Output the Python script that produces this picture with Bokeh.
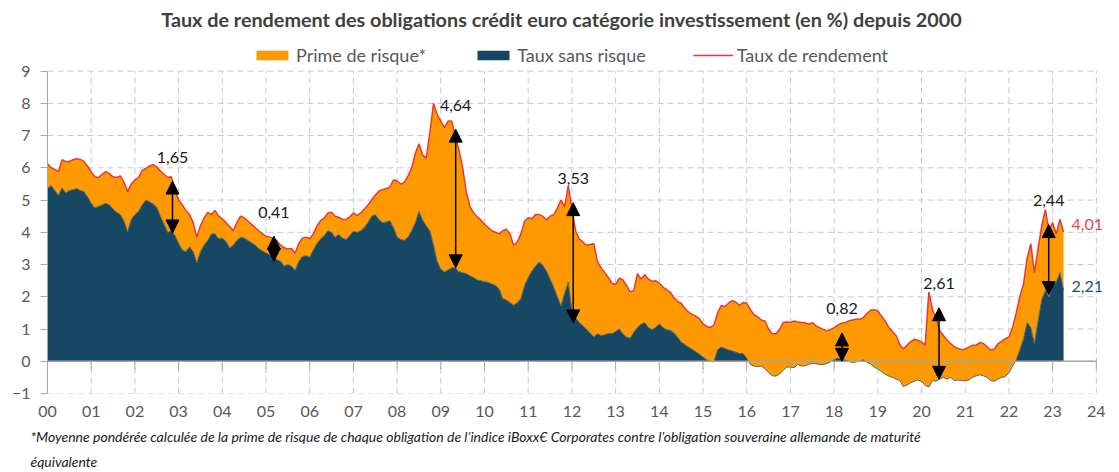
import numpy as np
from bokeh.plotting import figure
from bokeh.models import (ColumnDataSource, Legend, LegendItem, Title, FixedTicker,
                          Range1d, Arrow, NormalHead, LabelSet, Label)
from bokeh.core.properties import value
from bokeh.embed import file_html
from bokeh.resources import INLINE

# ---------------- data (monthly, from Jan 2000) ----------------
start_year = 2000
yield_pct = [
    # 2000
    6.13, 6.00, 5.95, 5.88, 6.25, 6.20, 6.20, 6.25, 6.28, 6.26, 6.20, 6.05,
    # 2001
    5.88, 5.72, 5.70, 5.80, 5.88, 5.82, 5.72, 5.70, 5.75, 5.55, 5.26, 5.50,
    # 2002
    5.62, 5.70, 5.92, 5.98, 6.05, 6.10, 6.03, 5.90, 5.80, 5.70, 5.72, 5.30,
    # 2003
    5.00, 4.85, 4.68, 4.55, 4.30, 3.85, 4.20, 4.45, 4.62, 4.55, 4.68, 4.50,
    # 2004
    4.42, 4.30, 4.18, 4.05, 4.30, 4.50, 4.45, 4.35, 4.25, 4.15, 4.05, 3.95,
    # 2005
    3.88, 3.85, 3.82, 3.74, 3.60, 3.52, 3.48, 3.50, 3.35, 3.65, 3.82, 3.85,
    # 2006
    3.80, 3.95, 4.20, 4.36, 4.45, 4.60, 4.62, 4.50, 4.46, 4.40, 4.40, 4.48,
    # 2007
    4.60, 4.52, 4.60, 4.72, 4.85, 5.00, 5.15, 5.28, 5.32, 5.36, 5.40, 5.62,
    # 2008
    5.60, 5.50, 5.55, 5.75, 6.00, 6.45, 6.75, 6.40, 6.30, 7.10, 8.00, 7.65,
    # 2009
    7.45, 7.25, 7.45, 7.45, 6.95, 6.55, 6.00, 5.25, 4.80, 4.60, 4.48, 4.38,
    # 2010
    4.25, 4.15, 4.05, 4.00, 3.95, 4.05, 4.10, 3.95, 3.60, 3.70, 3.95, 4.35,
    # 2011
    4.45, 4.42, 4.55, 4.55, 4.50, 4.38, 4.50, 4.55, 4.75, 5.00, 4.80, 5.45,
    # 2012
    4.75, 4.05, 3.80, 3.70, 3.60, 3.62, 3.65, 3.10, 2.90, 2.75, 2.60, 2.42,
    # 2013
    2.38, 2.58, 2.52, 2.35, 2.15, 2.20, 2.72, 2.55, 2.68, 2.55, 2.48, 2.50,
    # 2014
    2.42, 2.30, 2.22, 2.14, 1.98, 1.86, 1.80, 1.64, 1.53, 1.45, 1.40, 1.32,
    # 2015
    1.16, 1.08, 1.05, 1.12, 1.50, 1.73, 1.70, 1.80, 1.88, 1.84, 1.73, 1.82,
    # 2016
    1.80, 1.60, 1.45, 1.38, 1.28, 1.25, 1.00, 0.85, 0.85, 0.98, 1.20, 1.22,
    # 2017
    1.20, 1.25, 1.22, 1.20, 1.20, 1.15, 1.20, 1.10, 1.04, 0.99, 0.95, 0.98,
    # 2018
    1.04, 1.12, 1.18, 1.20, 1.25, 1.28, 1.30, 1.30, 1.35, 1.48, 1.58, 1.60,
    # 2019
    1.56, 1.40, 1.25, 1.05, 0.92, 0.80, 0.52, 0.38, 0.50, 0.60, 0.68, 0.65,
    # 2020
    0.60, 0.50, 2.15, 1.60, 1.30, 0.95, 0.80, 0.66, 0.55, 0.45, 0.40, 0.36,
    # 2021
    0.38, 0.44, 0.50, 0.50, 0.58, 0.55, 0.45, 0.35, 0.38, 0.55, 0.62, 0.70,
    # 2022
    0.75, 1.05, 1.50, 2.00, 2.40, 3.20, 3.65, 2.75, 3.50, 4.20, 4.70, 4.05,
    # 2023
    4.30, 3.95, 4.40, 4.01,
]
riskfree_pct = [
    # 2000
    5.36, 5.45, 5.30, 5.15, 5.38, 5.22, 5.30, 5.32, 5.36, 5.30, 5.26, 5.10,
    # 2001
    4.90, 4.76, 4.80, 4.85, 4.90, 4.85, 4.72, 4.62, 4.55, 4.35, 4.02, 4.40,
    # 2002
    4.55, 4.65, 4.85, 5.00, 4.95, 4.88, 4.78, 4.50, 4.25, 4.00, 4.05, 3.90,
    # 2003
    3.66, 3.45, 3.40, 3.55, 3.40, 3.05, 3.40, 3.60, 3.75, 3.95, 3.95, 3.80,
    # 2004
    3.82, 3.72, 3.52, 3.60, 3.75, 3.85, 3.82, 3.75, 3.68, 3.60, 3.50, 3.42,
    # 2005
    3.36, 3.30, 3.22, 3.15, 3.10, 2.95, 3.00, 2.95, 2.82, 3.10, 3.25, 3.27,
    # 2006
    3.23, 3.45, 3.65, 3.80, 3.90, 4.05, 4.00, 3.85, 3.93, 3.82, 3.78, 3.90,
    # 2007
    4.03, 4.00, 4.05, 4.15, 4.30, 4.50, 4.55, 4.40, 4.30, 4.32, 4.36, 4.15,
    # 2008
    3.85, 3.78, 3.75, 3.85, 4.05, 4.30, 4.65, 4.38, 4.20, 4.05, 3.60, 3.10,
    # 2009
    2.85, 2.78, 2.83, 2.90, 2.90, 2.78, 2.75, 2.72, 2.65, 2.60, 2.52, 2.50,
    # 2010
    2.47, 2.45, 2.40, 2.35, 2.25, 1.95, 1.90, 1.82, 1.74, 1.82, 1.95, 2.35,
    # 2011
    2.60, 2.80, 2.95, 3.08, 2.98, 2.80, 2.55, 2.30, 2.00, 1.72, 2.10, 2.45,
    # 2012
    1.55, 1.35, 1.20, 1.10, 1.00, 0.88, 0.76, 0.85, 0.80, 0.82, 0.86, 0.86,
    # 2013
    0.92, 1.00, 0.85, 0.75, 0.72, 0.90, 1.05, 1.15, 1.20, 1.05, 0.98, 1.05,
    # 2014
    1.16, 1.05, 0.98, 0.96, 0.88, 0.75, 0.60, 0.52, 0.44, 0.37, 0.30, 0.22,
    # 2015
    0.13, 0.05, 0.00, -0.02, 0.36, 0.44, 0.40, 0.35, 0.32, 0.28, 0.24, 0.24,
    # 2016
    0.10, -0.10, -0.15, -0.17, -0.15, -0.23, -0.35, -0.45, -0.46, -0.40, -0.28, -0.18,
    # 2017
    -0.18, -0.20, -0.10, -0.15, -0.14, -0.10, -0.06, -0.08, -0.10, -0.10, -0.07, -0.02,
    # 2018
    0.05, 0.10, 0.07, 0.04, 0.00, -0.04, -0.02, 0.00, 0.05, -0.03, -0.08, -0.18,
    # 2019
    -0.24, -0.32, -0.40, -0.46, -0.50, -0.55, -0.60, -0.78, -0.74, -0.67, -0.62, -0.58,
    # 2020
    -0.62, -0.75, -0.80, -0.60, -0.62, -0.55, -0.50, -0.55, -0.50, -0.60, -0.58, -0.60,
    # 2021
    -0.60, -0.58, -0.50, -0.45, -0.42, -0.45, -0.50, -0.60, -0.62, -0.55, -0.50, -0.48,
    # 2022
    -0.35, -0.15, 0.05, 0.35, 0.70, 1.20, 1.05, 0.55, 1.25, 1.90, 2.20, 2.00,
    # 2023
    2.35, 2.45, 2.75, 2.21,
]
tick_years = list(range(2000, 2025))
x_tick_labels = ["00", "01", "02", "03", "04", "05", "06", "07", "08", "09", "10", "11",
                 "12", "13", "14", "15", "16", "17", "18", "19", "20", "21", "22", "23", "24"]
y_ticks = [-1, 0, 1, 2, 3, 4, 5, 6, 7, 8, 9]

# spread annotations (double arrows)
ann_year = [2002.86, 2005.18, 2009.34, 2012.03, 2018.18, 2020.40, 2022.91]
ann_top = [5.59, 3.88, 7.20, 4.92, 0.88, 1.66, 4.24]
ann_bottom = [3.98, 3.10, 2.90, 1.19, 0.00, -0.56, 2.07]
ann_text = ["1,65", "0,41", "4,64", "3,53", "0,82", "2,61", "2,44"]
end_yield_label = "4,01"
end_rf_label = "2,21"

title_text = "Taux de rendement des obligations crédit euro catégorie investissement (en %) depuis 2000"
legend_labels = ["Prime de risque*", "Taux sans risque", "Taux de rendement"]
footnote_1 = ("*Moyenne pondérée calculée de la prime de risque de chaque obligation de l\u2019indice "
              "iBoxx\u20ac Corporates contre l\u2019obligation souveraine allemande de maturité")
footnote_2 = "équivalente"

# ---------------- styling ----------------
ORANGE = "#FF9900"
DARK = "#164863"
RED = "#E8383D"
GRAY_TXT = "#595959"
AXIS_GRAY = "#A6A6A6"
GRID_GRAY = "#C8C8C8"
FONT = "Lato"

n = len(yield_pct)
x = start_year + np.arange(n) / 12.0
yld = np.array(yield_pct)
rf = np.array(riskfree_pct)
src = ColumnDataSource(dict(x=x, yld=yld, rf=rf, rf_pos=np.maximum(rf, 0), zero=np.zeros(n)))

X_MIN, X_MAX = tick_years[0], tick_years[-1]
Y_MIN, Y_MAX = y_ticks[0], y_ticks[-1]
X_VIEW_MAX = 2024.53   # room on the right for the end labels
Y_VIEW_MAX = 11.19     # room on top (inside the frame) for the title and legend
p = figure(width=1119, height=472, x_range=Range1d(X_MIN, X_VIEW_MAX),
           y_range=Range1d(Y_MIN, Y_VIEW_MAX), output_backend="svg", toolbar_location=None,
           min_border_left=47, min_border_right=0, min_border_top=0, min_border_bottom=79)
p.outline_line_color = None
p.xgrid.grid_line_color = None
p.ygrid.grid_line_color = None

# dashed grid limited to the chart box [2000, 2024] x [-1, 9]
p.segment(x0=tick_years, y0=[Y_MIN] * len(tick_years), x1=tick_years, y1=[Y_MAX] * len(tick_years),
          line_color=GRID_GRAY, line_dash="6 4", line_width=1)
p.segment(x0=[X_MIN] * len(y_ticks), y0=y_ticks, x1=[X_MAX] * len(y_ticks), y1=y_ticks,
          line_color=GRID_GRAY, line_dash="6 4", line_width=1)

# y axis
p.yaxis.ticker = FixedTicker(ticks=y_ticks)
p.yaxis.bounds = (Y_MIN, Y_MAX)
p.yaxis.axis_line_color = AXIS_GRAY
p.yaxis.major_tick_line_color = AXIS_GRAY
p.yaxis.major_tick_out = 7
p.yaxis.major_tick_in = 0
p.yaxis.minor_tick_line_color = None
p.yaxis.major_label_text_font = FONT
p.yaxis.major_label_text_font_size = "16px"
p.yaxis.major_label_text_color = GRAY_TXT
p.yaxis.major_label_standoff = 10

# x axis: labels only (zero line drawn separately)
p.xaxis.ticker = FixedTicker(ticks=tick_years)
p.xaxis.major_label_overrides = {yr: lab for yr, lab in zip(tick_years, x_tick_labels)}
p.xaxis.axis_line_color = None
p.xaxis.major_tick_line_color = None
p.xaxis.minor_tick_line_color = None
p.xaxis.major_label_standoff = 6
p.xaxis.major_label_text_font = FONT
p.xaxis.major_label_text_font_size = "16px"
p.xaxis.major_label_text_color = GRAY_TXT

# areas and line
r_dark = p.varea(x="x", y1="zero", y2="rf_pos", source=src, fill_color=DARK)
r_orange = p.varea(x="x", y1="rf", y2="yld", source=src, fill_color=ORANGE)
p.line(x="x", y="rf", source=src, line_color="#4F6A6A", line_width=1)
r_line = p.line(x="x", y="yld", source=src, line_color=RED, line_width=1.5)

# zero line with small ticks below it
p.segment(x0=[X_MIN], y0=[0], x1=[X_MAX], y1=[0], line_color=AXIS_GRAY, line_width=1.3)
tick_len = 8 / 32.27  # data units (8 px)
p.segment(x0=tick_years, y0=[0] * len(tick_years), x1=tick_years,
          y1=[-tick_len] * len(tick_years), line_color=AXIS_GRAY, line_width=1)

# footnotes
p.add_layout(Title(text=footnote_1, align="left", text_font=FONT, text_font_style="italic",
                   text_font_size="14px", text_color="#1A1A1A", offset=-17, standoff=12), "below")
p.add_layout(Title(text=footnote_2, align="left", text_font=FONT, text_font_style="italic",
                   text_font_size="14px", text_color="#1A1A1A", offset=-17, standoff=0), "below")

# annotations
ann_src = ColumnDataSource(dict(x=ann_year, top=ann_top, bottom=ann_bottom, text=ann_text))
p.add_layout(Arrow(start=NormalHead(size=13, fill_color="black", line_color="black"),
                   end=NormalHead(size=13, fill_color="black", line_color="black"),
                   x_start="x", y_start="bottom", x_end="x", y_end="top", source=ann_src,
                   line_color="black", line_width=1.5))
p.add_layout(LabelSet(x="x", y="top", text="text", source=ann_src, y_offset=24,
                      text_align="center", text_baseline="middle", text_font=value(FONT),
                      text_font_size=value("16px"), text_color="#1A1A1A"))
p.add_layout(Label(x=x[-1], y=yld[-1], text=end_yield_label, x_offset=8, y_offset=7,
                   text_baseline="middle", text_font=FONT, text_font_size="16px",
                   text_color="#E8474F"))
p.add_layout(Label(x=x[-1], y=rf[-1], text=end_rf_label, x_offset=8, y_offset=4,
                   text_baseline="middle", text_font=FONT, text_font_size="16px",
                   text_color="#1B4F72"))

# title and legend, inside the top strip of the frame
p.add_layout(Label(x=2011.76, y=10.63, text=title_text, text_align="center",
                   text_baseline="middle", text_font=FONT, text_font_style="bold",
                   text_font_size="19.8px", text_color="#404040"))
legend = Legend(items=[LegendItem(label=legend_labels[0], renderers=[r_orange]),
                       LegendItem(label=legend_labels[1], renderers=[r_dark]),
                       LegendItem(label=legend_labels[2], renderers=[r_line])],
                orientation="horizontal", location=(205, 327), border_line_color=None,
                background_fill_alpha=0, glyph_width=40, glyph_height=12, label_standoff=4,
                spacing=47, padding=0, margin=0, label_text_font=FONT,
                label_text_font_size="18px", label_text_color=GRAY_TXT)
p.add_layout(legend)

open("out.html", "w").write(file_html(p, INLINE))
